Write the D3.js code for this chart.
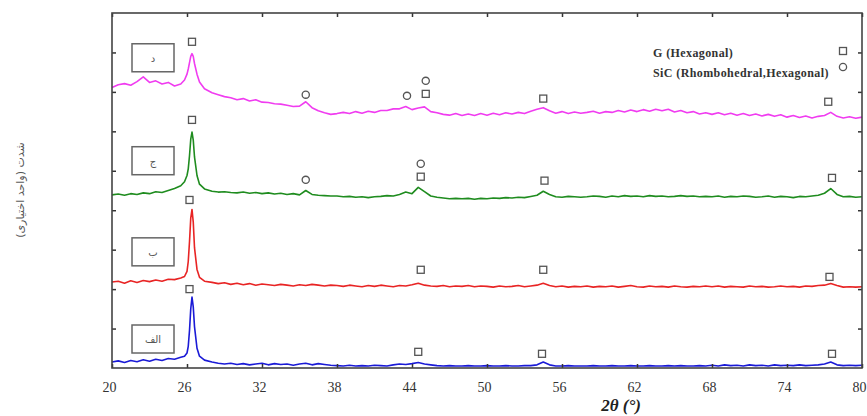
<!DOCTYPE html>
<html>
<head>
<meta charset="utf-8">
<script src="https://cdn.jsdelivr.net/npm/d3@7"></script>
<style>
body { margin: 0; background: #fff; }
</style>
</head>
<body>
<div id="chart"></div>
<script>
// 2theta sampling (degrees), dense around the graphite peak
var angles = [20,20.5,21,21.5,22,22.5,23,23.5,24,24.5,25,25.5,
  25.8,26,26.1,26.2,26.3,26.4,26.5,26.6,26.8,27,27.4,
  28,28.5,29,29.5,30,30.5,31,31.5,32,32.5,33,33.5,34,34.5,35,35.5,36,36.5,37,37.5,
  38,38.5,39,39.5,40,40.5,41,41.5,42,42.5,43,43.5,44,44.5,45,45.5,46,46.5,47,47.5,
  48,48.5,49,49.5,50,50.5,51,51.5,52,52.5,53,53.5,54,54.5,55,55.5,56,56.5,57,57.5,
  58,58.5,59,59.5,60,60.5,61,61.5,62,62.5,63,63.5,64,64.5,65,65.5,66,66.5,67,67.5,
  68,68.5,69,69.5,70,70.5,71,71.5,72,72.5,73,73.5,74,74.5,75,75.5,76,76.5,77,77.5,
  78,78.5,79,79.5,80];

// intensities (offset, arbitrary units)
var alef = [0.15,0.18,0.14,0.19,0.16,0.21,0.17,0.22,0.19,0.24,0.22,0.27,
  0.3,0.38,0.55,0.95,1.5,1.8,1.55,1.05,0.5,0.3,0.2,
  0.15,0.12,0.1,0.12,0.09,0.11,0.08,0.1,0.12,0.08,0.11,0.09,0.1,0.07,0.1,0.12,0.08,0.11,0.09,0.07,
  0.06,0.05,0.07,0.05,0.06,0.05,0.07,0.06,0.05,0.08,0.1,0.09,0.11,0.14,0.1,0.08,0.06,0.05,0.06,0.05,
  0.05,0.06,0.05,0.05,0.06,0.05,0.05,0.06,0.05,0.05,0.06,0.06,0.08,0.15,0.08,0.05,0.05,0.06,0.05,0.05,
  0.05,0.06,0.05,0.05,0.06,0.05,0.05,0.06,0.05,0.05,0.06,0.05,0.05,0.06,0.05,0.06,0.05,0.05,0.06,0.05,
  0.07,0.05,0.08,0.06,0.07,0.05,0.08,0.06,0.07,0.05,0.08,0.06,0.07,0.06,0.08,0.06,0.07,0.08,0.1,0.15,
  0.08,0.06,0.07,0.06,0.07];

var be = [2.18,2.2,2.15,2.21,2.17,2.22,2.19,2.23,2.2,2.25,2.24,2.28,
  2.32,2.45,2.7,3.2,3.8,4.02,3.7,3.05,2.5,2.3,2.2,
  2.17,2.14,2.16,2.12,2.15,2.11,2.14,2.1,2.13,2.11,2.09,2.12,2.1,2.08,2.11,2.09,2.12,2.1,2.08,2.1,
  2.09,2.07,2.1,2.08,2.06,2.09,2.07,2.1,2.08,2.06,2.09,2.08,2.11,2.15,2.1,2.08,2.07,2.09,2.06,2.08,
  2.07,2.09,2.06,2.08,2.07,2.05,2.08,2.06,2.07,2.09,2.06,2.08,2.1,2.15,2.09,2.06,2.08,2.05,2.07,2.06,
  2.08,2.05,2.07,2.06,2.08,2.05,2.07,2.09,2.06,2.05,2.08,2.06,2.07,2.05,2.08,2.06,2.05,2.07,2.06,2.08,
  2.06,2.08,2.05,2.07,2.06,2.05,2.08,2.06,2.07,2.05,2.06,2.08,2.06,2.07,2.05,2.08,2.07,2.09,2.1,2.14,
  2.09,2.05,2.06,2.05,2.06];

var jim = [4.39,4.41,4.38,4.42,4.4,4.44,4.42,4.47,4.45,4.5,4.55,4.62,
  4.72,4.88,5.05,5.38,5.8,5.98,5.78,5.35,4.88,4.66,4.54,
  4.48,4.46,4.47,4.45,4.44,4.46,4.43,4.45,4.42,4.44,4.41,4.43,4.4,4.42,4.39,4.5,4.4,4.38,4.37,4.36,
  4.36,4.34,4.35,4.33,4.34,4.32,4.34,4.35,4.37,4.36,4.4,4.46,4.42,4.58,4.47,4.36,4.33,4.31,4.29,4.3,
  4.29,4.3,4.28,4.3,4.29,4.31,4.3,4.32,4.31,4.33,4.32,4.35,4.38,4.48,4.4,4.34,4.33,4.35,4.34,4.33,
  4.34,4.36,4.35,4.33,4.36,4.34,4.37,4.35,4.36,4.34,4.37,4.35,4.36,4.34,4.35,4.37,4.35,4.36,4.34,4.35,
  4.34,4.36,4.33,4.35,4.34,4.36,4.35,4.33,4.34,4.36,4.33,4.35,4.34,4.32,4.35,4.34,4.36,4.38,4.43,4.55,
  4.4,4.34,4.35,4.33,4.34];

var dal = [7.11,7.18,7.21,7.17,7.26,7.38,7.24,7.28,7.2,7.24,7.15,7.2,
  7.3,7.45,7.58,7.74,7.9,7.97,7.9,7.72,7.45,7.25,7.08,
  6.98,6.93,6.88,6.85,6.8,6.83,6.77,6.8,6.74,6.73,6.7,6.69,6.66,6.63,6.64,6.75,6.6,6.52,6.47,6.43,
  6.45,6.48,6.45,6.5,6.46,6.51,6.48,6.53,6.53,6.57,6.57,6.63,6.55,6.59,6.62,6.5,6.47,6.43,6.41,6.45,
  6.4,6.44,6.4,6.45,6.41,6.46,6.42,6.47,6.44,6.48,6.45,6.51,6.56,6.6,6.52,6.46,6.5,6.45,6.49,6.46,
  6.48,6.51,6.46,6.5,6.48,6.53,6.49,6.54,6.5,6.55,6.51,6.56,6.52,6.56,6.49,6.53,6.47,6.5,6.44,6.47,
  6.43,6.47,6.42,6.46,6.41,6.45,6.4,6.44,6.39,6.43,6.38,6.42,6.36,6.4,6.35,6.39,6.34,6.38,6.4,6.48,
  6.38,6.34,6.37,6.33,6.36];

var seriesNames = ["الف", "ب", "ج", "د"];
var seriesColors = ["#1a1ad6", "#e82424", "#1f8c1f", "#f03cf0"];
// label box top level per series (a.u.)
var labelLevels = [1.09, 3.3, 5.61, 8.22];

// phase markers: [2theta, level]
var graphiteMarks = [[26.4, 8.27], [45.1, 6.95], [54.5, 6.83], [77.3, 6.75],
  [26.4, 6.29], [44.7, 4.85], [54.6, 4.75], [77.6, 4.82],
  [26.2, 4.26], [44.7, 2.49], [54.5, 2.49], [77.4, 2.31],
  [26.2, 2.0], [44.5, 0.41], [54.4, 0.36], [77.6, 0.36]];
var sicMarks = [[35.5, 6.93], [43.6, 6.9], [45.1, 7.28],
  [35.5, 4.77], [44.7, 5.18]];

var xTicks = [20, 26, 32, 38, 44, 50, 56, 62, 68, 74, 80];
var yTicks = [1, 2, 3, 4, 5, 6, 7, 8];

var W = 867, H = 416;
var margin = {top: 13, right: 5, bottom: 48, left: 112};

var svg = d3.select("#chart").append("svg")
  .attr("width", W)
  .attr("height", H);

var x = d3.scaleLinear().domain([20, 80]).range([margin.left, W - margin.right]);
var y = d3.scaleLinear().domain([0, 9]).range([H - margin.bottom, margin.top]);

var serif = "'Liberation Serif', 'Times New Roman', serif";

// curves
var line = d3.line()
  .x(function(d) { return x(d[0]); })
  .y(function(d) { return y(d[1]); });

[alef, be, jim, dal].forEach(function(vals, i) {
  svg.append("path")
    .datum(angles.map(function(a, k) { return [a, vals[k]]; }))
    .attr("fill", "none")
    .attr("stroke", seriesColors[i])
    .attr("stroke-width", 1.6)
    .attr("stroke-linejoin", "round")
    .attr("d", line);
});

// axes
function clean(g) {
  g.select(".domain").remove();
  g.selectAll(".tick line").attr("stroke", "#333").attr("stroke-width", 1.5);
}

svg.append("g")
  .attr("transform", "translate(0," + (H - margin.bottom) + ")")
  .call(d3.axisBottom(x).tickValues(xTicks).tickSize(-4).tickPadding(14).tickFormat(d3.format("d")))
  .call(clean)
  .selectAll("text")
  .attr("font-family", serif)
  .attr("font-size", 14)
  .attr("fill", "#333")
  .attr("dx", -3);

svg.append("g")
  .attr("transform", "translate(0," + margin.top + ")")
  .call(d3.axisTop(x).tickValues(xTicks).tickSize(-4).tickFormat(""))
  .call(clean);

svg.append("g")
  .attr("transform", "translate(" + margin.left + ",0)")
  .call(d3.axisLeft(y).tickValues(yTicks).tickSize(-4).tickFormat(""))
  .call(clean);

svg.append("g")
  .attr("transform", "translate(" + (W - margin.right) + ",0)")
  .call(d3.axisRight(y).tickValues(yTicks).tickSize(-4).tickFormat(""))
  .call(clean);

// frame
svg.append("rect")
  .attr("x", margin.left)
  .attr("y", margin.top)
  .attr("width", W - margin.left - margin.right)
  .attr("height", H - margin.top - margin.bottom)
  .attr("fill", "none")
  .attr("stroke", "#444")
  .attr("stroke-width", 1.6);

// label boxes
labelLevels.forEach(function(lv, i) {
  var g = svg.append("g").attr("transform", "translate(132," + y(lv) + ")");
  g.append("rect")
    .attr("width", 42)
    .attr("height", 28)
    .attr("fill", "#fff")
    .attr("stroke", "#666")
    .attr("stroke-width", 1.5);
  g.append("text")
    .attr("x", 21)
    .attr("y", 18)
    .attr("text-anchor", "middle")
    .attr("font-family", "'DejaVu Sans', sans-serif")
    .attr("font-size", 10)
    .attr("fill", "#555")
    .text(seriesNames[i]);
});

// markers
svg.selectAll(".gmark")
  .data(graphiteMarks)
  .enter()
  .append("rect")
  .attr("class", "gmark")
  .attr("x", function(d) { return x(d[0]) - 3.5; })
  .attr("y", function(d) { return y(d[1]) - 3.5; })
  .attr("width", 7)
  .attr("height", 7)
  .attr("fill", "#fff")
  .attr("stroke", "#555")
  .attr("stroke-width", 1.3);

svg.selectAll(".smark")
  .data(sicMarks)
  .enter()
  .append("circle")
  .attr("class", "smark")
  .attr("cx", function(d) { return x(d[0]); })
  .attr("cy", function(d) { return y(d[1]); })
  .attr("r", 3.6)
  .attr("fill", "#fff")
  .attr("stroke", "#555")
  .attr("stroke-width", 1.3);

// legend
var leg = svg.append("g").attr("font-family", serif).attr("font-weight", "bold")
  .attr("font-size", 12).attr("letter-spacing", 0.4).attr("fill", "#333");
leg.append("text").attr("x", 653).attr("y", 57).text("G (Hexagonal)");
leg.append("text").attr("x", 653).attr("y", 77).text("SiC (Rhombohedral,Hexagonal)");
leg.append("rect").attr("x", 839.5).attr("y", 47.5).attr("width", 7).attr("height", 7)
  .attr("fill", "#fff").attr("stroke", "#555").attr("stroke-width", 1.3);
leg.append("circle").attr("cx", 843).attr("cy", 67).attr("r", 3.6)
  .attr("fill", "#fff").attr("stroke", "#555").attr("stroke-width", 1.3);

// axis titles
svg.append("text")
  .attr("x", 621)
  .attr("y", 411)
  .attr("text-anchor", "middle")
  .attr("font-family", serif)
  .attr("font-style", "italic")
  .attr("font-weight", "bold")
  .attr("font-size", 17)
  .attr("fill", "#222")
  .text("2θ (°)");

svg.append("text")
  .attr("transform", "translate(24,190) rotate(-90)")
  .attr("text-anchor", "middle")
  .attr("font-family", "'DejaVu Sans', sans-serif")
  .attr("font-size", 11)
  .attr("fill", "#555")
  .text("شدت (واحد اختیاری)");
</script>
</body>
</html>
